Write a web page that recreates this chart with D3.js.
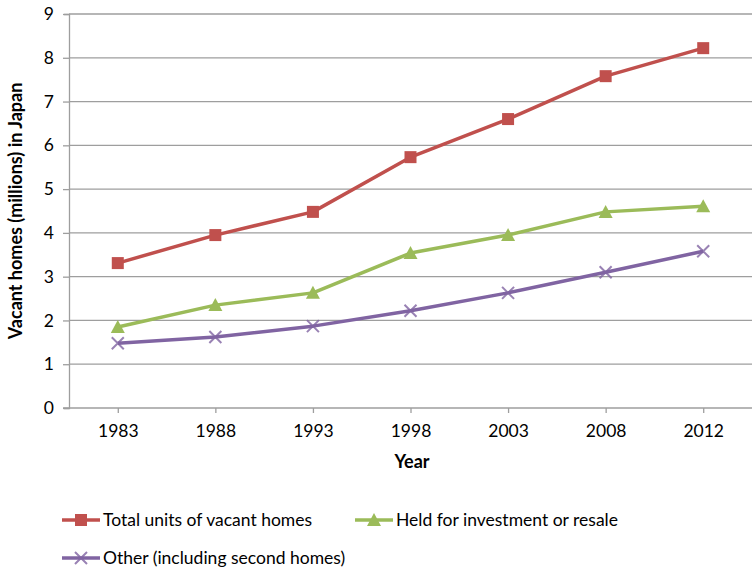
<!DOCTYPE html>
<html><head><meta charset="utf-8">
<script src="https://cdn.jsdelivr.net/npm/d3@7"></script>
<style>body{margin:0;background:#fff}svg{display:block}text{font-family:Lato,"Open Sans",sans-serif}</style>
</head><body>
<svg id="c" width="752" height="568"></svg>
<script>
const years = ["1983","1988","1993","1998","2003","2008","2012"];
const total = [3.31,3.95,4.48,5.73,6.60,7.58,8.22];
const held = [1.85,2.35,2.63,3.54,3.95,4.48,4.61];
const other = [1.48,1.62,1.87,2.22,2.63,3.10,3.58];
const yTicks = [0,1,2,3,4,5,6,7,8,9];
const seriesNames = ["Total units of vacant homes","Held for investment or resale","Other (including second homes)"];

const svg = d3.select("#c");
const L=69, R=752, T=14, B=408;
const x = d3.scalePoint().domain(years).range([L,R]).padding(0.5);
const y = d3.scaleLinear().domain([0,9]).range([B,T]);

svg.append("g").selectAll("line").data(yTicks.filter(d=>d>0)).join("line")
  .attr("x1",L).attr("x2",R).attr("y1",d=>y(d)).attr("y2",d=>y(d))
  .attr("stroke","#9e9e9e").attr("stroke-width",1.3);
const ya = svg.append("g").attr("transform",`translate(${L},0)`).call(d3.axisLeft(y).tickValues(yTicks).tickSize(5).tickPadding(10));
const xa = svg.append("g").attr("transform",`translate(0,${B})`).call(d3.axisBottom(x).tickSize(5).tickPadding(12));
[ya,xa].forEach(a=>{a.select(".domain").attr("stroke","#9e9e9e").attr("stroke-width",1.3);
  a.selectAll(".tick line").attr("stroke","#9e9e9e").attr("stroke-width",1.3);
  a.selectAll("text").attr("font-size",17.5).attr("fill","#000").style("font-family","Lato,'Open Sans',sans-serif");});
xa.select(".domain").attr("d",`M${L-6},0H${R}`);
ya.selectAll(".tick line").attr("x1",-6).attr("x2",0);

svg.append("text").attr("transform",`translate(22,${(T+B)/2}) rotate(-90)`).attr("text-anchor","middle")
  .attr("font-size",18).attr("font-weight","bold").text("Vacant homes (millions) in Japan");
svg.append("text").attr("x",412).attr("y",468).attr("text-anchor","middle")
  .attr("font-size",18).attr("font-weight","bold").text("Year");

const colors = ["#c0504d","#9bbb59","#8064a2"];
const data = [total,held,other];
const line = d3.line().x((d,i)=>x(years[i])).y(d=>y(d));

function marker(g,k,cx,cy){
  if(k===0) g.append("rect").attr("x",cx-6).attr("y",cy-6).attr("width",12).attr("height",12).attr("fill",colors[0]);
  else if(k===1) g.append("path").attr("d",`M${cx},${cy-7}L${cx+7},${cy+6}L${cx-7},${cy+6}Z`).attr("fill",colors[1]);
  else g.append("path").attr("d",`M${cx-6},${cy-6}L${cx+6},${cy+6}M${cx+6},${cy-6}L${cx-6},${cy+6}`).attr("stroke",colors[2]).attr("stroke-width",2).attr("opacity",0.8);
}
[2,1,0].forEach(k=>{
  const g = svg.append("g");
  g.append("path").datum(data[k]).attr("d",line).attr("fill","none").attr("stroke",colors[k]).attr("stroke-width",3.5).attr("stroke-linejoin","round");
  data[k].forEach((v,i)=>marker(g,k,x(years[i]),y(v)));
});

const leg = [[62,520],[355,520],[62,558]];
leg.forEach(([lx,ly],k)=>{
  const g = svg.append("g");
  g.append("line").attr("x1",lx).attr("x2",lx+38).attr("y1",ly).attr("y2",ly).attr("stroke",colors[k]).attr("stroke-width",3.5);
  marker(g,k,lx+19,ly);
  g.append("text").attr("x",lx+41).attr("y",ly+6).attr("font-size",17.5).attr("fill","#000").text(seriesNames[k]);
});
</script>
</body></html>
